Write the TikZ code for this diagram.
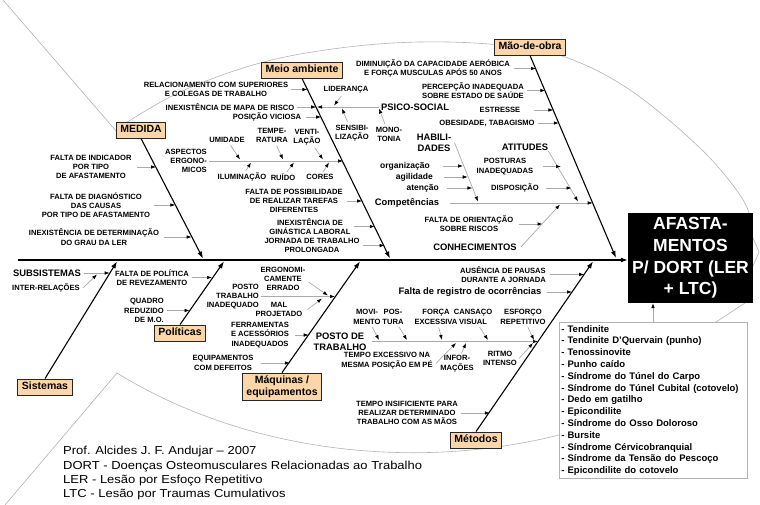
\documentclass[tikz,border=0pt]{standalone}
\usepackage{fontspec}
\setmainfont{Liberation Sans}
\newfontfamily\footfont[FakeStretch=1.12]{Liberation Sans}
\usetikzlibrary{arrows.meta}
\definecolor{peach}{RGB}{252,213,168}
\definecolor{linegray}{RGB}{170,170,170}
\definecolor{decogray}{RGB}{178,178,178}
\newcommand\myfs{\fontsize{7.6}{9.3}\selectfont\bfseries}
\newcommand\myfm{\fontsize{9.4}{11}\selectfont\bfseries}
\newcommand\myfl{\fontsize{8.5}{10}\selectfont\bfseries}
\newcommand\myfb{\fontsize{10.5}{12}\selectfont\bfseries}
\begin{document}
\begin{tikzpicture}[x=1pt,y=-1pt,
 txt/.style={font=\myfs, align=center, inner sep=0pt},
 txtr/.style={txt, align=right, anchor=east},
 txm/.style={font=\myfm, align=center, inner sep=0pt},
 txl/.style={font=\myfl, inner sep=0pt, anchor=east},
 catbase/.style={draw=black!85, fill=peach, line width=0.9pt, font=\myfb, inner xsep=4pt, inner ysep=3pt},
 cat/.style={catbase, text height=7.8pt, text depth=2.2pt},
 bone/.style={line width=1.1pt, -{Latex[length=7pt,width=5pt]}},
 sub/.style={draw=linegray, line width=0.7pt, -{Latex[length=5pt,width=3.6pt,color=black]}},
 deco/.style={draw=decogray, line width=0.6pt},
 afbox/.style={fill=black, text=white, font=\fontsize{17.5}{21.7}\selectfont\bfseries, align=center, minimum width=125pt, minimum height=90pt, inner sep=1pt},
 listbox/.style={draw=decogray, line width=0.6pt, fill=white, font=\fontsize{9.5}{11.8}\selectfont\bfseries, align=left, text width=184pt, inner xsep=2pt, inner ysep=3pt, minimum height=156pt}]
\useasboundingbox (0,0) rectangle (760,505);

% background outline
\draw[deco] (3,0) -- (117,132);
\draw[deco] plot[smooth, tension=0.6] coordinates {(118,128) (180,92) (260,63) (340,48) (420,42) (500,45) (565,57) (630,90) (700,148) (740,195) (752,222)};
\draw[deco] (753,238) -- (759,252) -- (753,266);
\draw[deco] (745,303) -- (716,322);
\draw[deco] (5,505) -- (117,373) .. controls (250,455) and (420,470) .. (559,435);

% effect box and spine
\node[afbox] (AF) at (690.5,258) {AFASTA-\\MENTOS\\P/ DORT (LER\\+ LTC)};
\coordinate (tail) at (18,260);
\draw[bone] (tail) -- (AF.west |- tail);

% category boxes and bones
\node[cat] (MED) at (141,130) {MEDIDA};
\node[cat] (MA) at (302,70) {Meio ambiente};
\node[cat] (MO) at (530,47) {Mão-de-obra};
\node[cat] (SIS) at (45,387) {Sistemas};
\node[cat] (POL) at (180,333) {Políticas};
\node[catbase, align=center] (MQ) at (282,387) {Máquinas /\\equipamentos};
\node[cat] (ME) at (476,440) {Métodos};
\coordinate (medE) at (203,258.5);
\coordinate (maE) at (390,258.5);
\coordinate (moE) at (616,258);
\coordinate (sisE) at (117,261.5);
\coordinate (polE) at (224,261.5);
\coordinate (mqE) at (360,261.5);
\coordinate (meE) at (593,261.5);
\draw[bone] (MED.south) -- (medE);
\draw[bone] (MA.south) -- (maE);
\draw[bone] (MO.south) -- (moE);
\draw[bone] (SIS.north) -- (sisE);
\draw[bone] (POL.north) -- (polE);
\draw[bone] (MQ.north) -- (mqE);
\draw[bone] (ME.north) -- (meE);

% MEDIDA
\node[txt] (m1) at (91,167) {FALTA DE INDICADOR\\POR TIPO\\DE AFASTAMENTO};
\node[txt] (m2) at (96,205) {FALTA DE DIAGNÓSTICO\\DAS CAUSAS\\POR TIPO DE AFASTAMENTO};
\node[txt] (m3) at (94,237) {INEXISTÊNCIA DE DETERMINAÇÃO\\DO GRAU DA LER};
\coordinate (hm1) at (156,167);
\coordinate (hm2) at (175.3,205);
\coordinate (hm3) at (191.7,237);
\draw[sub] ([xshift=5pt]m1.east) -- (m1.east -| hm1);
\draw[sub] ([xshift=4pt]m2.east) -- (m2.east -| hm2);
\draw[sub] ([xshift=5pt]m3.east) -- (m3.east -| hm3);

% Meio ambiente
\node[txt] (ma1) at (216,89.5) {RELACIONAMENTO COM SUPERIORES\\E COLEGAS DE TRABALHO};
\node[txt] (ma2) at (230,107) {INEXISTÊNCIA DE MAPA DE RISCO};
\node[txt] (ma3) at (267,117) {POSIÇÃO VICIOSA};
\node[txtr] (asp) at (207,161) {ASPECTOS\\ERGONO-\\MICOS};
\node[txt] (umi) at (227,140) {UMIDADE};
\node[txt] (tmp) at (272,135.5) {TEMPE-\\RATURA};
\node[txt] (ven) at (307,137) {VENTI-\\LAÇÃO};
\node[txt] (ilu) at (242,177) {ILUMINAÇÃO};
\node[txt] (rui) at (283,177) {RUÍDO};
\node[txt] (cor) at (320,177) {CORES};
\node[txt] (ma4) at (294,201) {FALTA DE POSSIBILIDADE\\DE REALIZAR TAREFAS\\DIFERENTES};
\node[txt] (ma5) at (310,226.5) {INEXISTÊNCIA DE\\GINÁSTICA LABORAL};
\node[txt] (ma6) at (312,245.5) {JORNADA DE TRABALHO\\PROLONGADA};
\coordinate (hma1) at (307.4,89);
\coordinate (hma2) at (316.2,107);
\coordinate (hma3) at (321.1,117);
\coordinate (hasp) at (343,161);
\coordinate (hma4) at (362.1,201);
\coordinate (hma5) at (374.8,227);
\coordinate (hma6) at (384.6,246);
\coordinate (umiT) at (240,159.5);
\coordinate (tmpT) at (283,159.5);
\coordinate (venT) at (323,159.5);
\coordinate (iluT) at (251,162.5);
\coordinate (ruiT) at (294,162.5);
\coordinate (corT) at (329,162.5);
\draw[sub] ([xshift=3pt]ma1.east) -- (ma1.east -| hma1);
\draw[sub] ([xshift=2pt]ma2.east) -- (ma2.east -| hma2);
\draw[sub] ([xshift=5pt]ma3.east) -- (ma3.east -| hma3);
\draw[sub] ([xshift=2pt]asp.east) -- (asp.east -| hasp);
\draw[sub, shorten <=3pt] (umi) -- (umiT);
\draw[sub, shorten <=3pt] (tmp) -- (tmpT);
\draw[sub, shorten <=3pt] (ven) -- (venT);
\draw[sub, shorten <=2pt] (ilu) -- (iluT);
\draw[sub, shorten <=2pt] (rui) -- (ruiT);
\draw[sub, shorten <=2pt] (cor) -- (corT);
\draw[sub] ([xshift=4pt]ma4.east) -- (ma4.east -| hma4);
\draw[sub] ([xshift=3pt]ma5.east) -- (ma5.east -| hma5);
\draw[sub] ([xshift=3pt]ma6.east) -- (ma6.east -| hma6);

% Psico-social
\node[txm, anchor=west] (PS) at (381,107) {PSICO-SOCIAL};
\coordinate (hps) at (317,107);
\draw[sub] ([xshift=-2pt]PS.west) -- (PS.west -| hps);
\node[txt] (lid) at (346,90) {LIDERANÇA};
\node[txt] (sen) at (352,133) {SENSIBI-\\LIZAÇÃO};
\node[txt] (mon) at (389,134.5) {MONO-\\TONIA};
\coordinate (lidT) at (334,105.5);
\coordinate (senT) at (342,108.5);
\coordinate (monT) at (379,108.5);
\draw[sub, shorten <=3pt] (lid) -- (lidT);
\draw[sub, shorten <=3pt] (sen) -- (senT);
\draw[sub, shorten <=3pt] (mon) -- (monT);

% Mao-de-obra
\node[txt] (mo1) at (433,68.5) {DIMINUIÇÃO DA CAPACIDADE AERÓBICA\\E FORÇA MUSCULAS APÓS 50 ANOS};
\node[txt] (mo2) at (473,90.5) {PERCEPÇÃO INADEQUADA\\SOBRE ESTADO DE SAÚDE};
\node[txt] (mo3) at (500,110) {ESTRESSE};
\node[txt] (mo4) at (487,123) {OBESIDADE, TABAGISMO};
\coordinate (hmo1) at (536,69);
\coordinate (hmo2) at (545.3,91);
\coordinate (hmo3) at (553.3,110);
\coordinate (hmo4) at (558.8,123);
\draw[sub] ([xshift=4pt]mo1.east) -- (mo1.east -| hmo1);
\draw[sub] ([xshift=3pt]mo2.east) -- (mo2.east -| hmo2);
\draw[sub] ([xshift=14pt]mo3.east) -- (mo3.east -| hmo3);
\draw[sub] ([xshift=3pt]mo4.east) -- (mo4.east -| hmo4);

\node[txm] (COMP) at (407,203) {Competências};
\coordinate (hcomp) at (592.7,203);
\draw[sub] ([xshift=11pt]COMP.east) -- (COMP.east -| hcomp);

\node[txm] (HAB) at (434,142.5) {HABILI-\\DADES};
\coordinate (habT) at (478,201.5);
\draw[sub] ([xshift=3pt]HAB.east) -- (habT);
\node[txl] (org) at (430,166) {organização};
\node[txl] (agi) at (433,177) {agilidade};
\node[txl] (ate) at (439,188) {atenção};
\coordinate (horg) at (463,166);
\coordinate (hagi) at (467.7,177);
\coordinate (hate) at (472.4,188);
\draw[sub] ([xshift=13pt]org.east) -- (org.east -| horg);
\draw[sub] ([xshift=11pt]agi.east) -- (agi.east -| hagi);
\draw[sub] ([xshift=8pt]ate.east) -- (ate.east -| hate);

\node[txm] (ATI) at (525,147) {ATITUDES};
\coordinate (atiT) at (578,201.5);
\draw[sub] ([yshift=-4pt]ATI.east) -- (atiT);
\node[txt] (pst) at (505,166.5) {POSTURAS\\INADEQUADAS};
\node[txt] (dis) at (515,188) {DISPOSIÇÃO};
\coordinate (hpst) at (561,166);
\coordinate (hdis) at (571.5,188);
\draw[sub] ([xshift=10pt]pst.east) -- (pst.east -| hpst);
\draw[sub] ([xshift=7pt]dis.east) -- (dis.east -| hdis);

\node[txt] (ori) at (469,224) {FALTA DE ORIENTAÇÃO\\SOBRE RISCOS};
\node[txm] (CON) at (475,247) {CONHECIMENTOS};
\coordinate (hori) at (542.5,224);
\coordinate (conT) at (560,204.5);
\draw[sub] ([xshift=5pt]ori.east) -- (ori.east -| hori);
\draw[sub] ([xshift=4pt]CON.east) -- (conT);

% Sistemas
\node[txm] (SUB) at (47,273) {SUBSISTEMAS};
\node[txt] (INT) at (46,288) {INTER-RELAÇÕES};
\coordinate (hsub) at (109.7,273);
\coordinate (intT) at (97,274.5);
\draw[sub] ([xshift=3pt]SUB.east) -- (SUB.east -| hsub);
\draw[sub] ([xshift=3pt]INT.east) -- (intT);

% Politicas
\node[txt] (po1) at (152,277.5) {FALTA DE POLÍTICA\\DE REVEZAMENTO};
\node[txtr] (po2) at (164,310.5) {QUADRO\\REDUZIDO\\DE M.O.};
\coordinate (hpo1) at (212,278);
\coordinate (hpo2) at (189.6,311);
\draw[sub] ([xshift=3pt]po1.east) -- (po1.east -| hpo1);
\draw[sub] ([xshift=3pt]po2.east) -- (po2.east -| hpo2);

% Maquinas
\node[txtr] (mqa) at (259,296.5) {POSTO\\TRABALHO\\INADEQUADO};
\node[txt] (erg) at (283,279) {ERGONOMI-\\CAMENTE\\ERRADO};
\node[txt] (mal) at (279,309.5) {MAL\\PROJETADO};
\node[txt] (mq2) at (260,335) {FERRAMENTAS\\E ACESSÓRIOS\\INADEQUADOS};
\node[txt] (mq3) at (223,363) {EQUIPAMENTOS\\COM DEFEITOS};
\coordinate (hmqa) at (335,297);
\coordinate (ergT) at (328,295.5);
\coordinate (malT) at (322,298.5);
\coordinate (hmq2) at (308.7,335);
\coordinate (hmq3) at (289.9,362);
\draw[sub] ([xshift=2pt]mqa.east) -- (mqa.east -| hmqa);
\draw[sub] ([xshift=3pt,yshift=-3pt]erg.east) -- (ergT);
\draw[sub] ([xshift=5pt]mal.east) -- (malT);
\draw[sub] ([xshift=6pt]mq2.east) -- (mq2.east -| hmq2);
\draw[sub] ([xshift=7pt]mq3.east) -- (mq3.east -| hmq3);

% Metodos
\node[txtr] (me1) at (546,274.5) {AUSÊNCIA DE PAUSAS\\DURANTE A JORNADA};
\node[txm] (me2) at (470,292) {Falta de registro de ocorrências};
\coordinate (hme1) at (584.2,274.5);
\coordinate (hme2) at (572,292);
\draw[sub] ([xshift=4pt]me1.east) -- (me1.east -| hme1);
\draw[sub] ([xshift=5pt]me2.east) -- (me2.east -| hme2);

\node[txm] (PT) at (340,341.5) {POSTO DE\\TRABALHO};
\coordinate (hpt) at (538,341.5);
\draw[sub] ([xshift=5pt]PT.east) -- (PT.east -| hpt);
\node[txt] (mov) at (367,317) {MOVI-\\MENTO};
\node[txt] (pos) at (393,317) {POS-\\TURA};
\node[txt] (frc) at (436,317) {FORÇA\\EXCESSIVA};
\node[txt] (cns) at (473,317) {CANSAÇO\\VISUAL};
\node[txt] (esf) at (523,317) {ESFORÇO\\REPETITIVO};
\node[txt] (tem) at (387,360.5) {TEMPO EXCESSIVO NA\\MESMA POSIÇÃO EM PÉ};
\node[txt] (inf) at (457,363.5) {INFOR-\\MAÇÕES};
\node[txt] (rit) at (500,358.5) {RITMO\\INTENSO};
\coordinate (movT) at (379,340);
\coordinate (posT) at (407,340);
\coordinate (frcT) at (442,340);
\coordinate (cnsT) at (488,340);
\coordinate (esfT) at (534,340);
\coordinate (temT) at (456,343);
\coordinate (infT) at (466,343);
\coordinate (ritT) at (533,343);
\draw[sub, shorten <=3pt] (mov) -- (movT);
\draw[sub, shorten <=3pt] (pos) -- (posT);
\draw[sub, shorten <=3pt] (frc) -- (frcT);
\draw[sub, shorten <=3pt] (cns) -- (cnsT);
\draw[sub, shorten <=3pt] (esf) -- (esfT);
\draw[sub] ([xshift=3pt,yshift=-3pt]tem.east) -- (temT);
\draw[sub, shorten <=2pt] (inf) -- (infT);
\draw[sub] ([xshift=2pt]rit.east) -- (ritT);

\node[txt] (me3) at (407,413) {TEMPO INSIFICIENTE PARA\\REALIZAR DETERMINADO\\TRABALHO COM AS MÃOS};
\coordinate (hme3) at (489.9,413);
\draw[sub] ([xshift=3pt]me3.east) -- (me3.east -| hme3);

% list of disorders
\node[listbox, anchor=north west] (LIST) at (559,322) {- Tendinite\\- Tendinite D’Quervain (punho)\\- Tenossinovite\\- Punho caído\\- Síndrome do Túnel do Carpo\\- Síndrome do Túnel Cubital (cotovelo)\\- Dedo em gatilho\\- Epicondilite\\- Síndrome do Osso Doloroso\\- Bursite\\- Síndrome Cérvicobranquial\\- Síndrome da Tensão do Pescoço\\- Epicondilite do cotovelo};
\coordinate (lstA) at ([xshift=94pt]LIST.north west);
\draw[sub] (lstA) -- (lstA |- AF.south);

% footer
\node[anchor=north west, font=\footfont\fontsize{11.6}{14.4}\selectfont, align=left, inner sep=0pt] (FOOT) at (63,446) {Prof. Alcides J. F. Andujar – 2007\\DORT - Doenças Osteomusculares Relacionadas ao Trabalho\\LER - Lesão por Esfoço Repetitivo\\LTC - Lesão por Traumas Cumulativos};
\end{tikzpicture}
\end{document}
